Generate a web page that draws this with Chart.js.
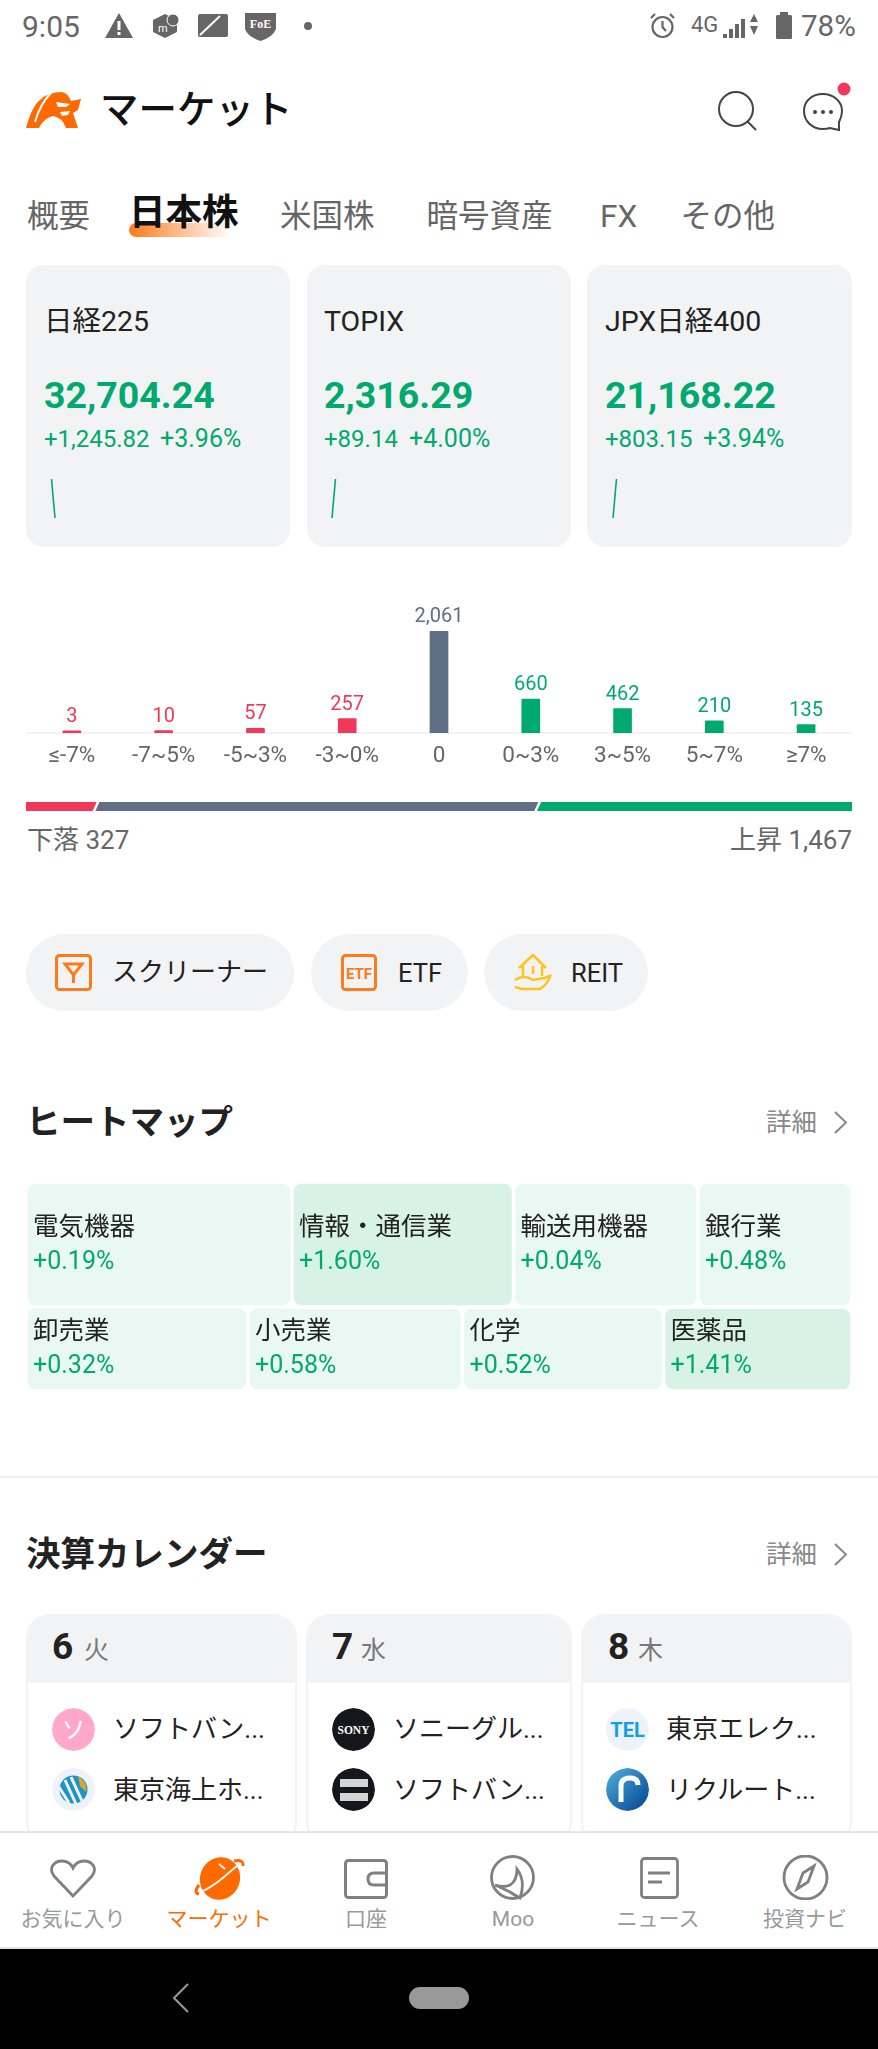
<!DOCTYPE html>
<html lang="ja">
<head>
<meta charset="utf-8">
<title>マーケット</title>
<script src="https://cdn.jsdelivr.net/npm/chart.js@4/dist/chart.umd.min.js"></script>
<style>
  html, body { margin: 0; padding: 0; background: #fff; }
  body { position: relative; width: 878px; height: 2049px; overflow: hidden; font-family: Roboto, "Noto Sans CJK JP", sans-serif; color: #222; }
  .t { position: absolute; white-space: nowrap; transform: translateY(-50%); line-height: 1.2; }
  .box, canvas, svg { position: absolute; display: block; }
  .card { background: #f2f3f5; border-radius: 18px; top: 265px; height: 282px; }
  .pill { background: #f2f3f5; border-radius: 39px; top: 934px; height: 77px; }
  .idx { font-size: 28.5px; top: 322px; }
  .val { font-size: 37.5px; font-weight: 700; top: 395px; color: #00a96e; }
  .chg { font-size: 24px; top: 439px; color: #00a96e; }
  .tab { font-size: 31.5px; top: 217px; color: #666; }
  .pilltxt { font-size: 26px; top: 973px; }
  .h2 { font-size: 34.5px; font-weight: 700; color: #222; }
  .more { font-size: 25.5px; color: #888; }
  .cal { box-sizing: border-box; top: 1614px; height: 232px; border: 2px solid #f2f3f5; border-radius: 24px; overflow: hidden; }
  .calhead { position: absolute; left: 0; right: 0; top: 0; height: 67px; background: #f2f3f5; }
  .day { font-size: 37px; font-weight: 700; top: 1647px; }
  .dow { font-size: 25px; top: 1651px; color: #777; }
  .co { font-size: 26px; color: #222; }
  .av { border-radius: 50%; width: 43px; height: 43px; overflow: hidden; }
  .nav { font-size: 21px; top: 1920px; color: #999; transform: translate(-50%, -50%); }
</style>
</head>
<body>

<!-- status bar -->
<div class="t" style="left:22px;top:27px;font-size:30px;color:#666">9:05</div>
<svg style="left:105px;top:13px" width="28" height="25" viewBox="0 0 28 25"><path d="M14 0 L28 25 H0 Z" fill="#666"/><rect x="12.5" y="8" width="3" height="9" fill="#fff"/><rect x="12.5" y="19" width="3" height="3" fill="#fff"/></svg>
<svg style="left:153px;top:14px" width="26" height="24" viewBox="0 0 26 24"><path d="M0 6 L12 0 L24 6 V18 L12 24 L0 18 Z" fill="#666"/><circle cx="20" cy="6" r="6" fill="#666" stroke="#fff"/><text x="5" y="18" font-size="11" fill="#fff">m</text></svg>
<svg style="left:198px;top:14px" width="30" height="23" viewBox="0 0 30 23"><rect width="30" height="23" rx="2" fill="#666"/><path d="M2 21 L22 2" stroke="#fff" stroke-width="2"/></svg>
<svg style="left:245px;top:11px" width="31" height="30" viewBox="0 0 31 30"><path d="M0 2 H31 V18 Q28 26 15.500 30 Q3 26 0 18 Z" fill="#666"/><text x="15.500" y="17" text-anchor="middle" font-family="Liberation Serif" font-weight="700" font-size="12" fill="#fff">FoE</text></svg>
<svg style="left:303px;top:21px" width="10" height="10"><circle cx="5" cy="5" r="4" fill="#666"/></svg>
<svg style="left:649px;top:12px" width="27" height="27" viewBox="0 0 27 27" fill="none" stroke="#666" stroke-width="2.200"><circle cx="13.500" cy="15" r="10"/><path d="M13.500 9 V15 L17 19 M2 6 L6 2 M25 6 L21 2"/></svg>
<div class="t" style="left:691px;top:25px;font-size:22px;color:#666">4G</div>
<svg style="left:723px;top:13px" width="36" height="25" viewBox="0 0 36 25"><path d="M0 25 V21 H4 V25 Z M6 25 V16 H10 V25 Z M12 25 V11 H16 V25 Z M18 25 V6 H22 V25 Z" fill="#666"/><path d="M31 1 L35 9 H27 Z M31 22 L35 13 H27 Z" fill="#666"/></svg>
<svg style="left:776px;top:12px" width="16" height="27" viewBox="0 0 16 27"><rect x="4" y="0" width="8" height="3" fill="#666"/><rect x="0" y="3" width="16" height="24" rx="1.500" fill="#666"/></svg>
<div class="t" style="left:801px;top:27px;font-size:29.5px;color:#666">78%</div>

<!-- header -->
<svg style="left:26px;top:92px" width="55" height="36" viewBox="0 0 55 36"><path d="M0 36 Q6 14 14 8 Q22 0 36 0 Q42 1 45 9 L55 7 L52 18 L47 21 L52 36 H40 Q36 25 27 24 Q18 26 13 36 Z" fill="#ff6a00"/><path d="M25 1 Q14 12 9 30" fill="none" stroke="#fff" stroke-width="2"/><path d="M30 10 L44 12 L40 15 L32 15 Z M34 20 L44 19 L42 23 L36 24 Z" fill="#fff"/></svg>
<div class="t" style="left:100px;top:110px;font-size:38.5px;font-weight:500;color:#111">マーケット</div>
<svg style="left:716px;top:90px" width="42" height="42" viewBox="0 0 42 42" fill="none" stroke="#444" stroke-width="2"><circle cx="20" cy="19" r="17"/><path d="M31 31 L40 40"/></svg>
<svg style="left:802px;top:92px" width="42" height="40" viewBox="0 0 42 40" fill="none" stroke="#444" stroke-width="2"><path d="M21 2 C31 2 40 9 40 19 C40 25 38 28 37 30 V38 L28 36 C25 37 23 37 21 37 C10 37 2 29 2 19 C2 9 10 2 21 2 Z"/><circle cx="13" cy="20" r="1" fill="#444"/><circle cx="21" cy="20" r="1" fill="#444"/><circle cx="29" cy="20" r="1" fill="#444"/></svg>
<svg style="left:836px;top:82px" width="16" height="16"><circle cx="8" cy="7" r="6.500" fill="#f2385a"/></svg>

<!-- tabs -->
<div class="t tab" style="left:27px">概要</div>
<div class="box" style="left:129px;top:223px;width:103px;height:14px;border-radius:8px 0 0 8px;background:linear-gradient(90deg,#ff7a1a,#ffd9bf 70%,#fff)"></div>
<div class="t" style="left:129px;top:213px;font-size:36.500px;font-weight:700;color:#111">日本株</div>
<div class="t tab" style="left:280px">米国株</div>
<div class="t tab" style="left:426.500px">暗号資産</div>
<div class="t tab" style="left:600px">FX</div>
<div class="t tab" style="left:680.500px">その他</div>

<!-- index cards -->
<div class="box card" style="left:26px;width:264px"></div>
<div class="box card" style="left:307px;width:264px"></div>
<div class="box card" style="left:587px;width:265px"></div>
<div class="t idx" style="left:44px">日経225</div>
<div class="t val" style="left:44px">32,704.24</div>
<div class="t chg" style="left:44px">+1,245.82</div>
<div class="t chg" style="left:160px;font-size:25px">+3.96%</div>
<div class="t idx" style="left:324px">TOPIX</div>
<div class="t val" style="left:324px">2,316.29</div>
<div class="t chg" style="left:324px">+89.14</div>
<div class="t chg" style="left:409px;font-size:25px">+4.00%</div>
<div class="t idx" style="left:605px">JPX日経400</div>
<div class="t val" style="left:605px">21,168.22</div>
<div class="t chg" style="left:605px">+803.15</div>
<div class="t chg" style="left:703px;font-size:25px">+3.94%</div>
<canvas id="spark1" width="12" height="47" style="left:47px;top:475px"></canvas>
<canvas id="spark2" width="12" height="47" style="left:328px;top:475px"></canvas>
<canvas id="spark3" width="12" height="47" style="left:609px;top:475px"></canvas>

<!-- distribution -->
<canvas id="dist" width="826" height="169" style="left:26px;top:601px"></canvas>
<canvas id="ratio" width="826" height="9" style="left:26px;top:802px"></canvas>
<div class="t" style="left:27px;top:841px;font-size:26px;color:#666">下落 327</div>
<div class="t" style="right:26px;top:841px;font-size:26px;color:#666">上昇 1,467</div>

<!-- shortcuts -->
<div class="box pill" style="left:26px;width:268px"></div>
<div class="box pill" style="left:311px;width:157px"></div>
<div class="box pill" style="left:484px;width:164px"></div>
<svg style="left:55px;top:954px" width="37" height="37" viewBox="0 0 37 37" fill="none" stroke="#ff7a1a" stroke-width="3"><rect x="1.500" y="1.500" width="34" height="34" rx="3"/><path d="M10 10 H27 L18.500 21 Z M18.500 21 V29"/></svg>
<div class="t pilltxt" style="left:112px">スクリーナー</div>
<svg style="left:341px;top:954px" width="36" height="37" viewBox="0 0 36 37"><rect x="1.500" y="1.500" width="33" height="34" rx="3" fill="none" stroke="#ff7a1a" stroke-width="3"/><text x="18" y="25" text-anchor="middle" font-family="Roboto" font-weight="700" font-size="15" fill="#ff7a1a">ETF</text></svg>
<div class="t pilltxt" style="left:398px;font-size:25.5px">ETF</div>
<svg style="left:514px;top:954px" width="38" height="37" viewBox="0 0 38 37" fill="none" stroke="#ffc31a" stroke-width="2.500"><path d="M5 14 L19 1 L32 14 M9 12 V24 M28 12 V22 M19 12 V20"/><path d="M1 26 Q10 20 19 26 L30 24 L36 22 Q34 30 26 35 H8 L1 33"/></svg>
<div class="t pilltxt" style="left:571px;font-size:25.5px">REIT</div>

<!-- heatmap -->
<div class="t h2" style="left:26px;top:1123px">ヒートマップ</div>
<div class="t more" style="left:766px;top:1122px">詳細</div>
<svg style="left:833px;top:1111px" width="15" height="23" viewBox="0 0 15 23" fill="none" stroke="#888" stroke-width="2"><path d="M2 1 L13 11.500 L2 22"/></svg>
<canvas id="heat1" width="826" height="125" style="left:26px;top:1182px"></canvas>
<canvas id="heat2" width="826" height="84" style="left:26px;top:1307px"></canvas>
<div class="box" style="left:0;top:1476px;width:878px;height:2px;background:#f0f0f0"></div>

<!-- earnings calendar -->
<div class="t h2" style="left:26px;top:1555px">決算カレンダー</div>
<div class="t more" style="left:766px;top:1554px">詳細</div>
<svg style="left:833px;top:1543px" width="15" height="23" viewBox="0 0 15 23" fill="none" stroke="#888" stroke-width="2"><path d="M2 1 L13 11.500 L2 22"/></svg>

<div class="box cal" style="left:26px;width:271px"><div class="calhead"></div></div>
<div class="box cal" style="left:306px;width:266px"><div class="calhead"></div></div>
<div class="box cal" style="left:581px;width:271px"><div class="calhead"></div></div>
<div class="t day" style="left:52px">6</div><div class="t dow" style="left:84px">火</div>
<div class="t day" style="left:332px">7</div><div class="t dow" style="left:361px">水</div>
<div class="t day" style="left:608px">8</div><div class="t dow" style="left:638px">木</div>

<svg class="av" style="left:52px;top:1708px" viewBox="0 0 43 43"><circle cx="21.500" cy="21.500" r="21.500" fill="#ffa8c9"/><text x="21.500" y="30" text-anchor="middle" font-size="24" fill="#fff">ソ</text></svg>
<svg class="av" style="left:52px;top:1768px" viewBox="0 0 43 43"><circle cx="21.500" cy="21.500" r="21.500" fill="#eef2fa"/><circle cx="21.500" cy="21.500" r="14" fill="#1f93c8"/><path d="M13 12 L24 36 M19 9 L30 33 M7 19 L17 35" stroke="#eef2fa" stroke-width="3"/><path d="M26 8 Q36 14 34 24 L28 18 Z" fill="#d9a32f"/></svg>
<svg class="av" style="left:332px;top:1708px" viewBox="0 0 43 43"><circle cx="21.500" cy="21.500" r="21.500" fill="#15171c"/><text x="21.500" y="25.500" text-anchor="middle" font-family="Liberation Serif" font-weight="700" font-size="11.500" fill="#fff">SONY</text></svg>
<svg class="av" style="left:332px;top:1768px" viewBox="0 0 43 43"><circle cx="21.500" cy="21.500" r="21.500" fill="#15171c"/><rect x="8" y="11" width="28" height="8" fill="#d4d4d4"/><rect x="8" y="25" width="28" height="8" fill="#d4d4d4"/></svg>
<svg class="av" style="left:606px;top:1708px" viewBox="0 0 43 43"><circle cx="21.500" cy="21.500" r="21.500" fill="#eef2fa"/><text x="21.500" y="29" text-anchor="middle" font-family="Roboto" font-weight="700" font-size="20" fill="#0fa0e8">TEL</text></svg>
<svg class="av" style="left:606px;top:1768px" viewBox="0 0 43 43"><defs><linearGradient id="rc" x1="0" y1="0" x2="1" y2="1"><stop offset="0" stop-color="#4fb4de"/><stop offset="1" stop-color="#023f8f"/></linearGradient></defs><circle cx="21.500" cy="21.500" r="21.500" fill="url(#rc)"/><path d="M15 34 V18 Q15 10 24 10 Q32 10 32 17" fill="none" stroke="#fff" stroke-width="5"/></svg>
<div class="t co" style="left:113px;top:1730px">ソフトバン...</div>
<div class="t co" style="left:113px;top:1791px">東京海上ホ...</div>
<div class="t co" style="left:393px;top:1730px">ソニーグル...</div>
<div class="t co" style="left:393px;top:1791px">ソフトバン...</div>
<div class="t co" style="left:666px;top:1730px">東京エレク...</div>
<div class="t co" style="left:666px;top:1791px">リクルート...</div>

<!-- bottom nav -->
<div class="box" style="left:0;top:1831px;width:878px;height:116px;background:#fff;border-top:2px solid #e8e8e8;box-sizing:border-box"></div>
<div class="box" style="left:0;top:1947px;width:878px;height:2px;background:#e4e4e4"></div>
<svg style="left:49px;top:1859px" width="48" height="39" viewBox="0 0 48 39" fill="none" stroke="#808080" stroke-width="2.800"><path d="M24 37 L5 17 C-1 9 5 2 13 2 C18 2 22 5 24 9 C26 5 30 2 35 2 C43 2 49 9 43 17 Z"/></svg>
<svg style="left:194px;top:1857px" width="51" height="43" viewBox="0 0 51 43"><ellipse cx="26" cy="21.500" rx="20" ry="21.500" fill="#ff6a00" transform="rotate(20 26 21.500)"/><path d="M7 35 Q18 30 30 20 Q40 11 46 7" fill="none" stroke="#fff" stroke-width="1.800"/><path d="M25 7 L31 12" stroke="#fff" stroke-width="1.800"/><path d="M5 28 Q-1 36 5 37 M40 4 Q50 2 49 9" fill="none" stroke="#ff6a00" stroke-width="3"/></svg>
<svg style="left:344px;top:1859px" width="44" height="40" viewBox="0 0 44 40" fill="none" stroke="#808080" stroke-width="3"><rect x="1.500" y="1.500" width="41" height="37" rx="3"/><path d="M42 14 H30 Q24 14 24 20 Q24 26 30 26 H42"/></svg>
<svg style="left:490px;top:1855px" width="45" height="45" viewBox="0 0 45 45" fill="none" stroke="#808080" stroke-width="2.800"><circle cx="22.500" cy="22.500" r="21"/><path d="M27 14 Q27 26 20 30 Q14 33 5 30 Q14 34 20 37 Q26 41 30 43 Q36 26 27 14 Z"/></svg>
<svg style="left:640px;top:1857px" width="39" height="42" viewBox="0 0 39 42" fill="none" stroke="#808080" stroke-width="2.800"><rect x="1.500" y="1.500" width="36" height="39" rx="3"/><path d="M8 16 H30 M8 25 H22"/></svg>
<svg style="left:782px;top:1855px" width="47" height="45" viewBox="0 0 47 45" fill="none" stroke="#808080" stroke-width="2.800"><circle cx="23.500" cy="22.500" r="21.500"/><path d="M32 11 L26 27 L15 34 L21 18 Z"/></svg>
<div class="t nav" style="left:73px">お気に入り</div>
<div class="t nav" style="left:219px;color:#ff6a00">マーケット</div>
<div class="t nav" style="left:366px">口座</div>
<div class="t nav" style="left:513px">Moo</div>
<div class="t nav" style="left:658px">ニュース</div>
<div class="t nav" style="left:805px">投資ナビ</div>

<div class="box" style="left:0;top:1949px;width:878px;height:100px;background:#000"></div>
<svg style="left:172px;top:1983px" width="18" height="30" viewBox="0 0 18 30" fill="none" stroke="#999" stroke-width="2"><path d="M16 1 L2 15 L16 29"/></svg>
<div class="box" style="left:409px;top:1987px;width:60px;height:22px;border-radius:11px;background:#999"></div>

<script>
const distLabels = ["≤-7%", "-7~5%", "-5~3%", "-3~0%", "0", "0~3%", "3~5%", "5~7%", "≥7%"];
const distValues = [3, 10, 57, 257, 2061, 660, 462, 210, 135];

const fallCount = 327;
const flatCount = 2061;
const riseCount = 1467;

const nikkeiSpark = [32704.24, 31458.42];
const topixSpark = [2227.15, 2316.29];
const jpxSpark = [20365.07, 21168.22];

const heatRow1Names = ["電気機器", "情報・通信業", "輸送用機器", "銀行業"];
const heatRow1Pct = [0.19, 1.60, 0.04, 0.48];
const heatRow1Size = [266, 221.5, 184.5, 154];

const heatRow2Names = ["卸売業", "小売業", "化学", "医薬品"];
const heatRow2Pct = [0.32, 0.58, 0.52, 1.41];
const heatRow2Size = [222, 214.5, 201, 188.5];

const RED = "#f2385a";
const GREY = "#5f6f86";
const GREEN = "#00a96e";
const FONT = 'Roboto, "Noto Sans CJK JP", sans-serif';

Chart.defaults.font.family = FONT;
Chart.defaults.animation = false;
Chart.defaults.responsive = false;
Chart.defaults.plugins.legend.display = false;
Chart.defaults.plugins.tooltip.enabled = false;

const distColor = (i) => (i < 4 ? RED : i === 4 ? GREY : GREEN);

// value labels over the bars
const barLabels = {
  id: "barLabels",
  afterDatasetsDraw(chart) {
    const ctx = chart.ctx;
    ctx.save();
    ctx.font = "20px " + FONT;
    ctx.textAlign = "center";
    ctx.textBaseline = "middle";
    chart.getDatasetMeta(0).data.forEach((bar, i) => {
      ctx.fillStyle = distColor(i);
      ctx.fillText(distValues[i].toLocaleString("en-US"), bar.x, bar.y - 14);
    });
    ctx.restore();
  },
};

new Chart(document.getElementById("dist"), {
  type: "bar",
  data: {
    labels: distLabels,
    datasets: [{
      data: distValues,
      base: -40,
      backgroundColor: distValues.map((_, i) => distColor(i)),
      barThickness: 18,
      borderRadius: { topLeft: 1, topRight: 1 },
      borderSkipped: false,
    }],
  },
  options: {
    layout: { padding: { top: 30 } },
    scales: {
      y: { display: false, min: -40, max: 2061 },
      x: {
        afterFit: (s) => { s.height = 37; },
        grid: { display: false, drawTicks: false },
        border: { color: "#f3f3f5", width: 2 },
        ticks: { color: "#666", font: { size: 22.5 }, padding: 10, maxRotation: 0, autoSkip: false },
      },
    },
  },
  plugins: [barLabels],
});

// white slanted cuts between the three segments
const slantCuts = {
  id: "slantCuts",
  afterDatasetsDraw(chart) {
    const ctx = chart.ctx;
    const { top, bottom } = chart.chartArea;
    ctx.save();
    ctx.strokeStyle = "#fff";
    ctx.lineWidth = 2.5;
    [0, 1].forEach((d) => {
      const x = chart.getDatasetMeta(d).data[0].x;
      ctx.beginPath();
      ctx.moveTo(x + 2.5, top - 1);
      ctx.lineTo(x - 2.5, bottom + 1);
      ctx.stroke();
    });
    ctx.restore();
  },
};

new Chart(document.getElementById("ratio"), {
  type: "bar",
  data: {
    labels: ["ratio"],
    datasets: [
      { data: [fallCount], backgroundColor: RED },
      { data: [flatCount], backgroundColor: GREY },
      { data: [riseCount], backgroundColor: GREEN },
    ],
  },
  options: {
    indexAxis: "y",
    barPercentage: 1,
    categoryPercentage: 1,
    scales: {
      x: { display: false, stacked: true, min: 0, max: fallCount + flatCount + riseCount },
      y: { display: false, stacked: true },
    },
  },
  plugins: [slantCuts],
});

function drawSpark(id, values, padLeft, padRight) {
  new Chart(document.getElementById(id), {
    type: "line",
    data: {
      labels: ["prev", "now"],
      datasets: [{ data: values, borderColor: GREEN, borderWidth: 1.6, pointRadius: 0, clip: false }],
    },
    options: {
      layout: { padding: { left: padLeft, right: padRight, top: 4, bottom: 4 } },
      scales: {
        x: { display: false, offset: false },
        y: { display: false, min: Math.min(...values), max: Math.max(...values) },
      },
    },
  });
}
drawSpark("spark1", nikkeiSpark, 4.5, 4);
drawSpark("spark2", topixSpark, 4, 4.5);
drawSpark("spark3", jpxSpark, 4, 4.5);

const cellColor = (pct) => (pct >= 1 ? "#d8f2e8" : "#eaf8f3");

function drawHeatRow(id, names, pcts, sizes) {
  const cellText = {
    id: "cellText",
    afterDatasetsDraw(chart) {
      const ctx = chart.ctx;
      ctx.save();
      ctx.textAlign = "left";
      ctx.textBaseline = "middle";
      names.forEach((name, i) => {
        const cell = chart.getDatasetMeta(i).data[0];
        const left = cell.base + 7;
        ctx.font = "25.5px " + FONT;
        ctx.fillStyle = "#222";
        ctx.fillText(name, left, cell.y - 16);
        ctx.font = "25px " + FONT;
        ctx.fillStyle = GREEN;
        ctx.fillText("+" + pcts[i].toFixed(2) + "%", left, cell.y + 18);
      });
      ctx.restore();
    },
  };
  new Chart(document.getElementById(id), {
    type: "bar",
    data: {
      labels: ["row"],
      datasets: sizes.map((s, i) => ({
        data: [s],
        backgroundColor: cellColor(pcts[i]),
        borderColor: "#fff",
        borderWidth: 2,
        borderRadius: { topLeft: 10, topRight: 10, bottomLeft: 10, bottomRight: 10 },
        borderSkipped: false,
      })),
    },
    options: {
      indexAxis: "y",
      barPercentage: 1,
      categoryPercentage: 1,
      scales: {
        x: { display: false, stacked: true, min: 0, max: sizes.reduce((a, b) => a + b, 0) },
        y: { display: false, stacked: true },
      },
    },
    plugins: [cellText],
  });
}
drawHeatRow("heat1", heatRow1Names, heatRow1Pct, heatRow1Size);
drawHeatRow("heat2", heatRow2Names, heatRow2Pct, heatRow2Size);
</script>
</body>
</html>
